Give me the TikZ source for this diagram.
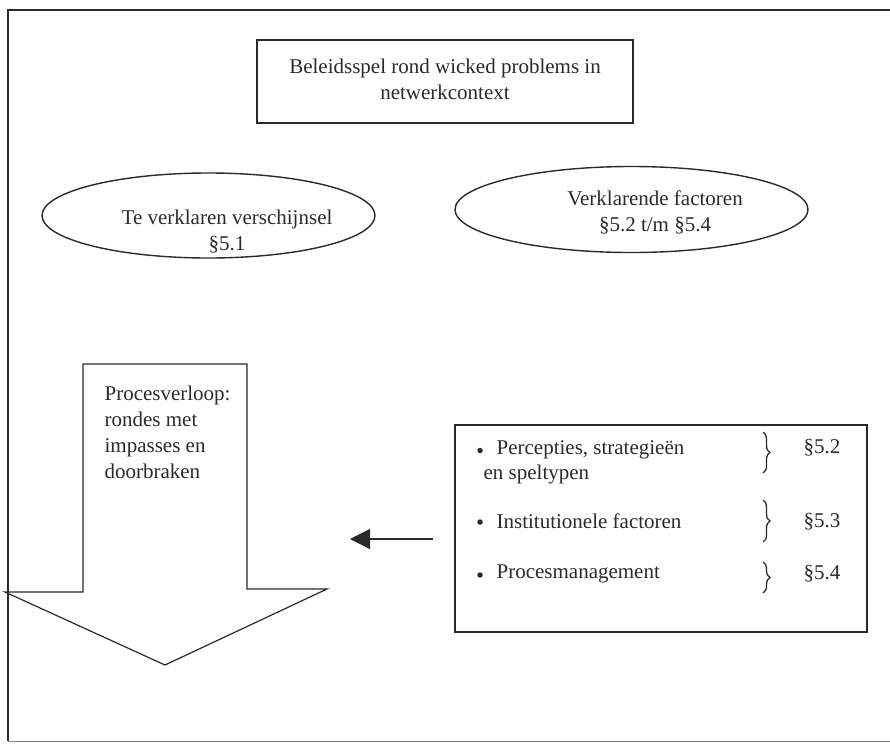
\documentclass[tikz,border=0pt]{standalone}
\usepackage{fontspec}
\setmainfont{Liberation Serif}
\usetikzlibrary{shapes.geometric,arrows.meta,decorations.pathreplacing}
\definecolor{ink}{HTML}{2A2A2A}
\begin{document}
\begin{tikzpicture}[x=1pt,y=-1pt,
  font=\fontsize{21}{26}\selectfont, text=ink, draw=ink, line width=1.2pt,
  lbl/.style={inner sep=0pt, align=center},
  lbll/.style={inner sep=0pt, align=left, anchor=west},
  framebox/.style={draw, rectangle, inner sep=0pt},
  oval/.style={draw, ellipse, inner sep=0pt},
  bracedeco/.style={decorate, decoration={brace, amplitude=7pt}, line width=1.3pt},
  bulletmark/.style={circle, fill=ink, inner sep=0pt, minimum size=5.5pt}]
\useasboundingbox (0,0) rectangle (890,744);
% outer frame
\draw[line width=2pt] (8,741) -- (8,10) -- (890,10);
\draw[line width=0.8pt, draw=ink!60] (8,741) -- (890,741);
% title
\node[framebox, minimum width=376pt, minimum height=83pt] (title) at (445,81.5) {};
\node[lbl] (titletxt) at (445,79.5) {Beleidsspel rond wicked problems in\\netwerkcontext};
% ellipses
\node[oval, line width=1.4pt, minimum width=333pt, minimum height=85pt] (e1) at (208.5,215.5) {};
\node[lbl] (e1txt) at (227,232) {Te verklaren verschijnsel\\\S5.1};
\node[oval, line width=1.4pt, minimum width=353pt, minimum height=86pt] (e2) at (631.5,209.5) {};
\node[lbl] (e2txt) at (655,212) {Verklarende factoren\\\S5.2 t/m \S5.4};
% big arrow
\draw[line join=miter] (83,364) -- (247,364) -- (247,589) -- (327,589) -- (165,665) -- (5,592) -- (83,592) -- cycle;
\node[lbll] (proc) at (104,432) {Procesverloop:\\rondes met\\impasses en\\doorbraken};
% right box
\node[framebox, minimum width=412pt, minimum height=207pt] (fbox) at (661,528.5) {};
\node[bulletmark] (b1) at (480,450.5) {};
\node[lbll] (i1) at (496,450) {Percepties, strategieën};
\node[lbll] (i1b) at (483,474) {en speltypen};
\node[bulletmark] (b2) at (480,522) {};
\node[lbll] (i2) at (496,521) {Institutionele factoren};
\node[bulletmark] (b3) at (480,575) {};
\node[lbll] (i3) at (496,574) {Procesmanagement};
\coordinate (br1t) at (763,432); \coordinate (br1b) at (763,473);
\coordinate (br2t) at (763,500); \coordinate (br2b) at (763,542);
\coordinate (br3t) at (763,562); \coordinate (br3b) at (763,593);
\draw[bracedeco] (br1t) -- (br1b);
\draw[bracedeco] (br2t) -- (br2b);
\draw[bracedeco] (br3t) -- (br3b);
\node[lbl] (s2) at (822,448) {\S5.2};
\node[lbl] (s3) at (822,522) {\S5.3};
\node[lbl] (s4) at (822,574) {\S5.4};
% small arrow
\coordinate (as) at (433,539);
\coordinate (ae) at (350,539);
\draw[-{Triangle[length=20pt,width=20pt]}] (as) -- (ae);
\end{tikzpicture}
\end{document}
